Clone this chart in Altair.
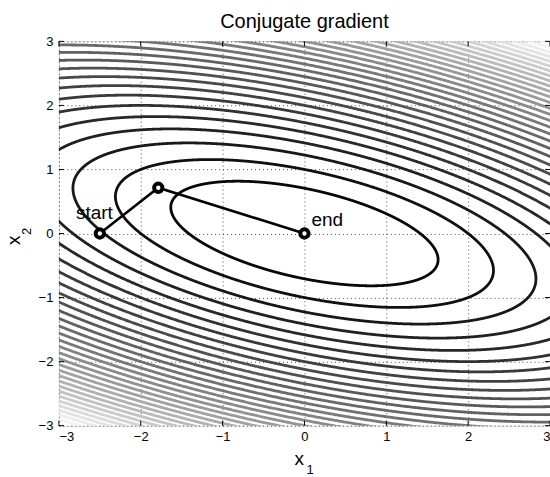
import numpy as np
import pandas as pd
import altair as alt

# Quadratic form q(x) = x' A x, A = [[a11, a12], [a12, a22]]
A11, A12, A22 = 1.0, 1.0, 4.0
LEVELS = list(range(2, 64, 2))      # contour levels of q
Q_MAX = 63.0                        # largest value of q on the square

# Conjugate gradient iterates
PATH_X1 = [-2.5, -1.786, 0.0]
PATH_X2 = [0.0, 0.714, 0.0]
PATH_STEP = [0, 1, 2]

LABEL_TEXT = ["start", "end"]
LABEL_X1 = [-2.5, 0.0]
LABEL_X2 = [0.0, 0.0]

TICKS = [-3, -2, -1, 0, 1, 2, 3]
LIM = [-3, 3]

W, H = 492, 385
FONT = "Liberation Sans"

# ---- contour lines: ellipses q(x) = k, split into the pieces inside the square
A = np.array([[A11, A12], [A12, A22]])
lam, V = np.linalg.eigh(A)
n = 3000
t = np.linspace(0, 2 * np.pi, n, endpoint=False)
circle = np.vstack([np.cos(t), np.sin(t)])
rows = []
seg = 0
for k in LEVELS:
    pts = V @ (circle * np.sqrt(k / lam)[:, None])
    inside = (np.abs(pts[0]) <= 3.1) & (np.abs(pts[1]) <= 3.1)
    if inside.all():
        idx = list(range(n)) + [0]
        for j, p in enumerate(idx):
            rows.append((k, seg, j, pts[0, p], pts[1, p]))
        seg += 1
        continue
    shift = int(np.argmin(inside))
    pts = np.roll(pts, -shift, axis=1)
    inside = np.roll(inside, -shift)
    i = 0
    while i < n:
        if inside[i]:
            j = i
            while j < n and inside[j]:
                j += 1
            for m, p in enumerate(range(max(i - 1, 0), min(j + 1, n))):
                rows.append((k, seg, m, pts[0, p], pts[1, p]))
            seg += 1
            i = j
        else:
            i += 1
contours = pd.DataFrame(rows, columns=["level", "seg", "ord", "x1", "x2"])

path = pd.DataFrame({"x1": PATH_X1, "x2": PATH_X2, "step": PATH_STEP})
labels = pd.DataFrame({"text": LABEL_TEXT, "x1": LABEL_X1, "x2": LABEL_X2})
ticks = pd.DataFrame({"v": TICKS})

xs = alt.Scale(domain=LIM, nice=False, zero=False)
ys = alt.Scale(domain=LIM, nice=False, zero=False)

axis_style = dict(values=TICKS, format="d", title=None, grid=True, ticks=False, domain=False,
                  labelFont=FONT, labelFontSize=13, labelColor="black",
                  gridColor="black", gridDash=[1, 3], gridOpacity=0.7, gridWidth=1)
x_axis = alt.Axis(labelPadding=5, **axis_style)
y_axis = alt.Axis(labelPadding=6, **axis_style)

contour_layer = alt.Chart(contours).mark_line(strokeWidth=2.8, clip=True).encode(
    x=alt.X("x1:Q", scale=xs, axis=x_axis),
    y=alt.Y("x2:Q", scale=ys, axis=y_axis),
    detail="seg:N",
    order="ord:Q",
    color=alt.Color("level:Q", legend=None,
                    scale=alt.Scale(domain=[0, Q_MAX], range=["#000000", "#ffffff"],
                                    interpolate="rgb")),
)

path_line = alt.Chart(path).mark_line(color="black", strokeWidth=2.6).encode(
    x=alt.X("x1:Q", scale=xs), y=alt.Y("x2:Q", scale=ys), order="step:Q"
)
path_pts = alt.Chart(path).mark_point(shape="circle", filled=True, fill="white",
                                      stroke="black", strokeWidth=4, size=70,
                                      opacity=1).encode(
    x=alt.X("x1:Q", scale=xs), y=alt.Y("x2:Q", scale=ys)
)

start_lbl = alt.Chart(labels).transform_filter(alt.datum.text == "start").mark_text(
    font=FONT, fontSize=19, align="right", baseline="alphabetic", dx=13, dy=-15,
    color="black").encode(x=alt.X("x1:Q", scale=xs), y=alt.Y("x2:Q", scale=ys), text="text:N")
end_lbl = alt.Chart(labels).transform_filter(alt.datum.text == "end").mark_text(
    font=FONT, fontSize=19, align="left", baseline="alphabetic", dx=7, dy=-8,
    color="black").encode(x=alt.X("x1:Q", scale=xs), y=alt.Y("x2:Q", scale=ys), text="text:N")

# inward tick marks on all four sides of the box
tick_len = 5
x_ticks_bottom = alt.Chart(ticks).mark_rule(color="black", strokeWidth=1).encode(
    x=alt.X("v:Q", scale=xs), y=alt.value(H), y2=alt.value(H - tick_len))
x_ticks_top = alt.Chart(ticks).mark_rule(color="black", strokeWidth=1).encode(
    x=alt.X("v:Q", scale=xs), y=alt.value(0), y2=alt.value(tick_len))
y_ticks_left = alt.Chart(ticks).mark_rule(color="black", strokeWidth=1).encode(
    y=alt.Y("v:Q", scale=ys), x=alt.value(0), x2=alt.value(tick_len))
y_ticks_right = alt.Chart(ticks).mark_rule(color="black", strokeWidth=1).encode(
    y=alt.Y("v:Q", scale=ys), x=alt.value(W), x2=alt.value(W - tick_len))

# chart title and axis titles x_1, x_2 with subscripts
title_txt = alt.Chart(pd.DataFrame({"t": ["Conjugate gradient"]})).mark_text(
    font=FONT, fontSize=20, align="center", baseline="alphabetic", color="black").encode(
    x=alt.value(W / 2), y=alt.value(-13), text="t:N")
xt_main = alt.Chart(pd.DataFrame({"t": ["x"]})).mark_text(
    font=FONT, fontSize=19, align="left", baseline="alphabetic", color="black").encode(
    x=alt.value(236), y=alt.value(H + 39), text="t:N")
xt_sub = alt.Chart(pd.DataFrame({"t": ["1"]})).mark_text(
    font=FONT, fontSize=13, align="left", baseline="alphabetic", color="black").encode(
    x=alt.value(248), y=alt.value(H + 48), text="t:N")
yt_main = alt.Chart(pd.DataFrame({"t": ["x"]})).mark_text(
    font=FONT, fontSize=19, align="left", baseline="alphabetic", angle=270, color="black").encode(
    x=alt.value(-39), y=alt.value(204), text="t:N")
yt_sub = alt.Chart(pd.DataFrame({"t": ["2"]})).mark_text(
    font=FONT, fontSize=13, align="left", baseline="alphabetic", angle=270, color="black").encode(
    x=alt.value(-28), y=alt.value(194), text="t:N")

chart = alt.layer(
    contour_layer, x_ticks_bottom, x_ticks_top, y_ticks_left, y_ticks_right,
    path_line, path_pts, start_lbl, end_lbl,
    title_txt, xt_main, xt_sub, yt_main, yt_sub,
).properties(
    width=W, height=H,
    autosize=alt.AutoSizeParams(type="none"),
    padding={"left": 59, "top": 41, "right": 0, "bottom": 51},
).configure_view(stroke="black", strokeWidth=1).configure(background="white")

chart.save("out.html", embed_options={"renderer": "svg", "actions": False})
